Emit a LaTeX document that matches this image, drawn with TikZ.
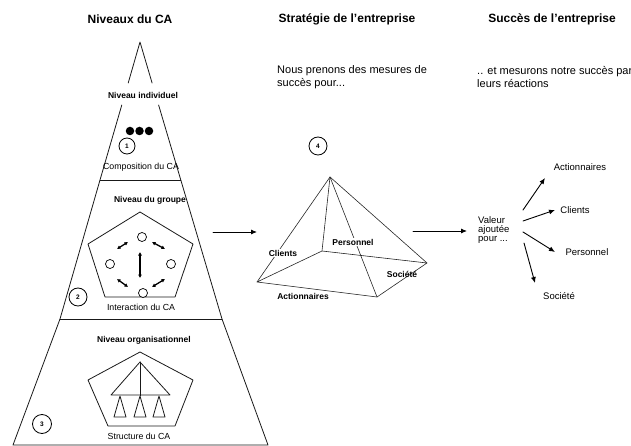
\documentclass[tikz,border=0pt]{standalone}
\usepackage{fontspec}
\setmainfont{Liberation Sans}
\usetikzlibrary{arrows.meta}

\begin{document}
\begin{tikzpicture}[x=1pt,y=-1pt,line cap=round,line join=round,
  edge/.style={line width=0.8pt,draw=black!90},
  thin edge/.style={line width=0.6pt,draw=black!85},
  arr/.style={line width=0.9pt,-{Latex[length=6pt,width=5pt]}},
  dbl/.style={line width=1.3pt,{Latex[length=3.5pt,width=4pt]}-{Latex[length=3.5pt,width=4pt]}},
  title/.style={font=\fontsize{12}{14}\selectfont\bfseries,inner sep=0pt},
  body/.style={font=\fontsize{11}{13}\selectfont,inner sep=0pt,align=left,anchor=west},
  lvl/.style={font=\fontsize{8.5}{10}\selectfont\bfseries,inner sep=0pt},
  capt/.style={font=\fontsize{8.8}{10}\selectfont,inner sep=0pt},
  plab/.style={font=\fontsize{8.5}{10}\selectfont\bfseries,inner sep=0.8pt},
  rlab/.style={font=\fontsize{9.5}{10}\selectfont,inner sep=0pt},
  num/.style={circle,draw,line width=0.8pt,inner sep=0pt,font=\fontsize{6.5}{7}\selectfont\bfseries},
  member/.style={circle,draw,line width=0.7pt,fill=white,minimum size=9pt,inner sep=0pt},
  person/.style={circle,fill=black,minimum size=8.5pt,inner sep=0pt}]
\useasboundingbox (0,0) rectangle (631,446);

% ---------- column titles and texts ----------
\node[title] (t1) at (130,19) {Niveaux du CA};
\node[title] (t2) at (347,19) {Stratégie de l'entreprise};
\node[title] (t3) at (552,19) {Succès de l'entreprise};
\node[body] (b2) at (277,77.5) {Nous prenons des mesures de\\succès pour...};
\node[body] (b3) at (477,77.5) {.. et mesurons notre succès par\\leurs réactions};

% ---------- layered triangle ----------
\coordinate (apex) at (140,42);
\coordinate (tL) at (128.2,83);  \coordinate (tR) at (152.1,83);
\coordinate (uL) at (121.8,105); \coordinate (uR) at (158.6,105);
\coordinate (aL) at (100,180);   \coordinate (aR) at (180.8,180);
\coordinate (bL) at (60,319);    \coordinate (bR) at (222,319);
\coordinate (cL) at (13,445);    \coordinate (cR) at (268,445);
\draw[edge] (tL) -- (apex) -- (tR);
\draw[edge] (uL) -- (aL) -- (bL) -- (cL) -- (cR) -- (bR) -- (aR) -- (uR);
\draw[edge] (aL) -- (aR);
\draw[edge] (bL) -- (bR);

% individual level
\node[lvl] (lv1) at (143,95) {Niveau individuel};
\node[person] (p1) at (130,131) {};
\node[person] (p2) at (139.5,131) {};
\node[person] (p3) at (149,131) {};
\node[num,minimum size=16pt] (n1) at (127,146) {1};
\node[capt] (c1) at (141,167) {Composition du CA};

% group level
\node[lvl] (lv2) at (150,200) {Niveau du groupe};
\draw[edge] (140,212) -- (193,244) -- (175,297) -- (105,297) -- (88,244) -- cycle;
\draw[dbl] (140,252) -- (140,278);
\draw[dbl] (117,249) -- (128,242);
\draw[dbl] (152,242) -- (165,249);
\draw[dbl] (117,279) -- (128,287);
\draw[dbl] (152,287) -- (165,279);
\node[member] (mT) at (142,237) {};
\node[member] (mL) at (110,264) {};
\node[member] (mR) at (171,264) {};
\node[member] (mB) at (143,293) {};
\node[num,minimum size=18pt] (n2) at (78,297) {2};
\node[capt] (c2) at (141,307) {Interaction du CA};

% organisational level
\node[lvl] (lv3) at (144,340) {Niveau organisationnel};
\draw[edge] (140,352) -- (193,380) -- (175,426) -- (108,426) -- (88,380) -- cycle;
\coordinate (oTop) at (140,362);
\draw[edge] (oTop) -- (111,395) -- (170,395) -- cycle;
\draw[edge] (oTop) -- (140,396);
\foreach \cx in {120,140,159}
  \draw[edge] (\cx,396) -- (\cx-6,417) -- (\cx+6,417) -- cycle;
\node[num,minimum size=19pt] (n3) at (42,424) {3};
\node[capt] (c3) at (139,436) {Structure du CA};

% ---------- arrow to the pyramid ----------
\coordinate (a1s) at (213,232); \coordinate (a1e) at (257,232);
\draw[arr] (a1s) -- (a1e);

% ---------- stakeholder pyramid ----------
\node[num,minimum size=18pt] (n4) at (318,146) {4};
\coordinate (pP) at (330,177);
\coordinate (pL) at (257,282);
\coordinate (pF) at (377,297);
\coordinate (pR) at (427,263);
\coordinate (pB) at (322,251);
\draw[thin edge] (pL) -- (pF) -- (pR) -- (pB) -- cycle;
\draw[thin edge] (pP) -- (pL);
\draw[thin edge] (pP) -- (pB);
\draw[thin edge] (pP) -- (pR);
\draw[thin edge] (pP) -- (pF);
\node[plab,fill=white] (kC) at (283,253) {Clients};
\node[plab,fill=white] (kP) at (353,242) {Personnel};
\node[plab] (kS) at (402,274) {Société};
\node[plab] (kA) at (303,296) {Actionnaires};

% ---------- arrow to added value ----------
\coordinate (a2s) at (413,231); \coordinate (a2e) at (467,231);
\draw[arr] (a2s) -- (a2e);

% ---------- added value fan ----------
\node[rlab,align=left,anchor=west,font=\fontsize{9.5}{9.3}\selectfont] (val) at (478,230) {Valeur\\ajoutée\\pour ...};
\node[rlab] (rA) at (580,167) {Actionnaires};
\node[rlab] (rC) at (575,210) {Clients};
\node[rlab] (rP) at (587,252) {Personnel};
\node[rlab] (rS) at (559,296) {Société};
\coordinate (v1) at (523,210); \coordinate (e1) at (545,178);
\coordinate (v2) at (523,221); \coordinate (e2) at (555,210);
\coordinate (v3) at (523,232); \coordinate (e3) at (555,252);
\coordinate (v4) at (524,243); \coordinate (e4) at (535,283);
\draw[arr] (v1) -- (e1);
\draw[arr] (v2) -- (e2);
\draw[arr] (v3) -- (e3);
\draw[arr] (v4) -- (e4);
\end{tikzpicture}
\end{document}
